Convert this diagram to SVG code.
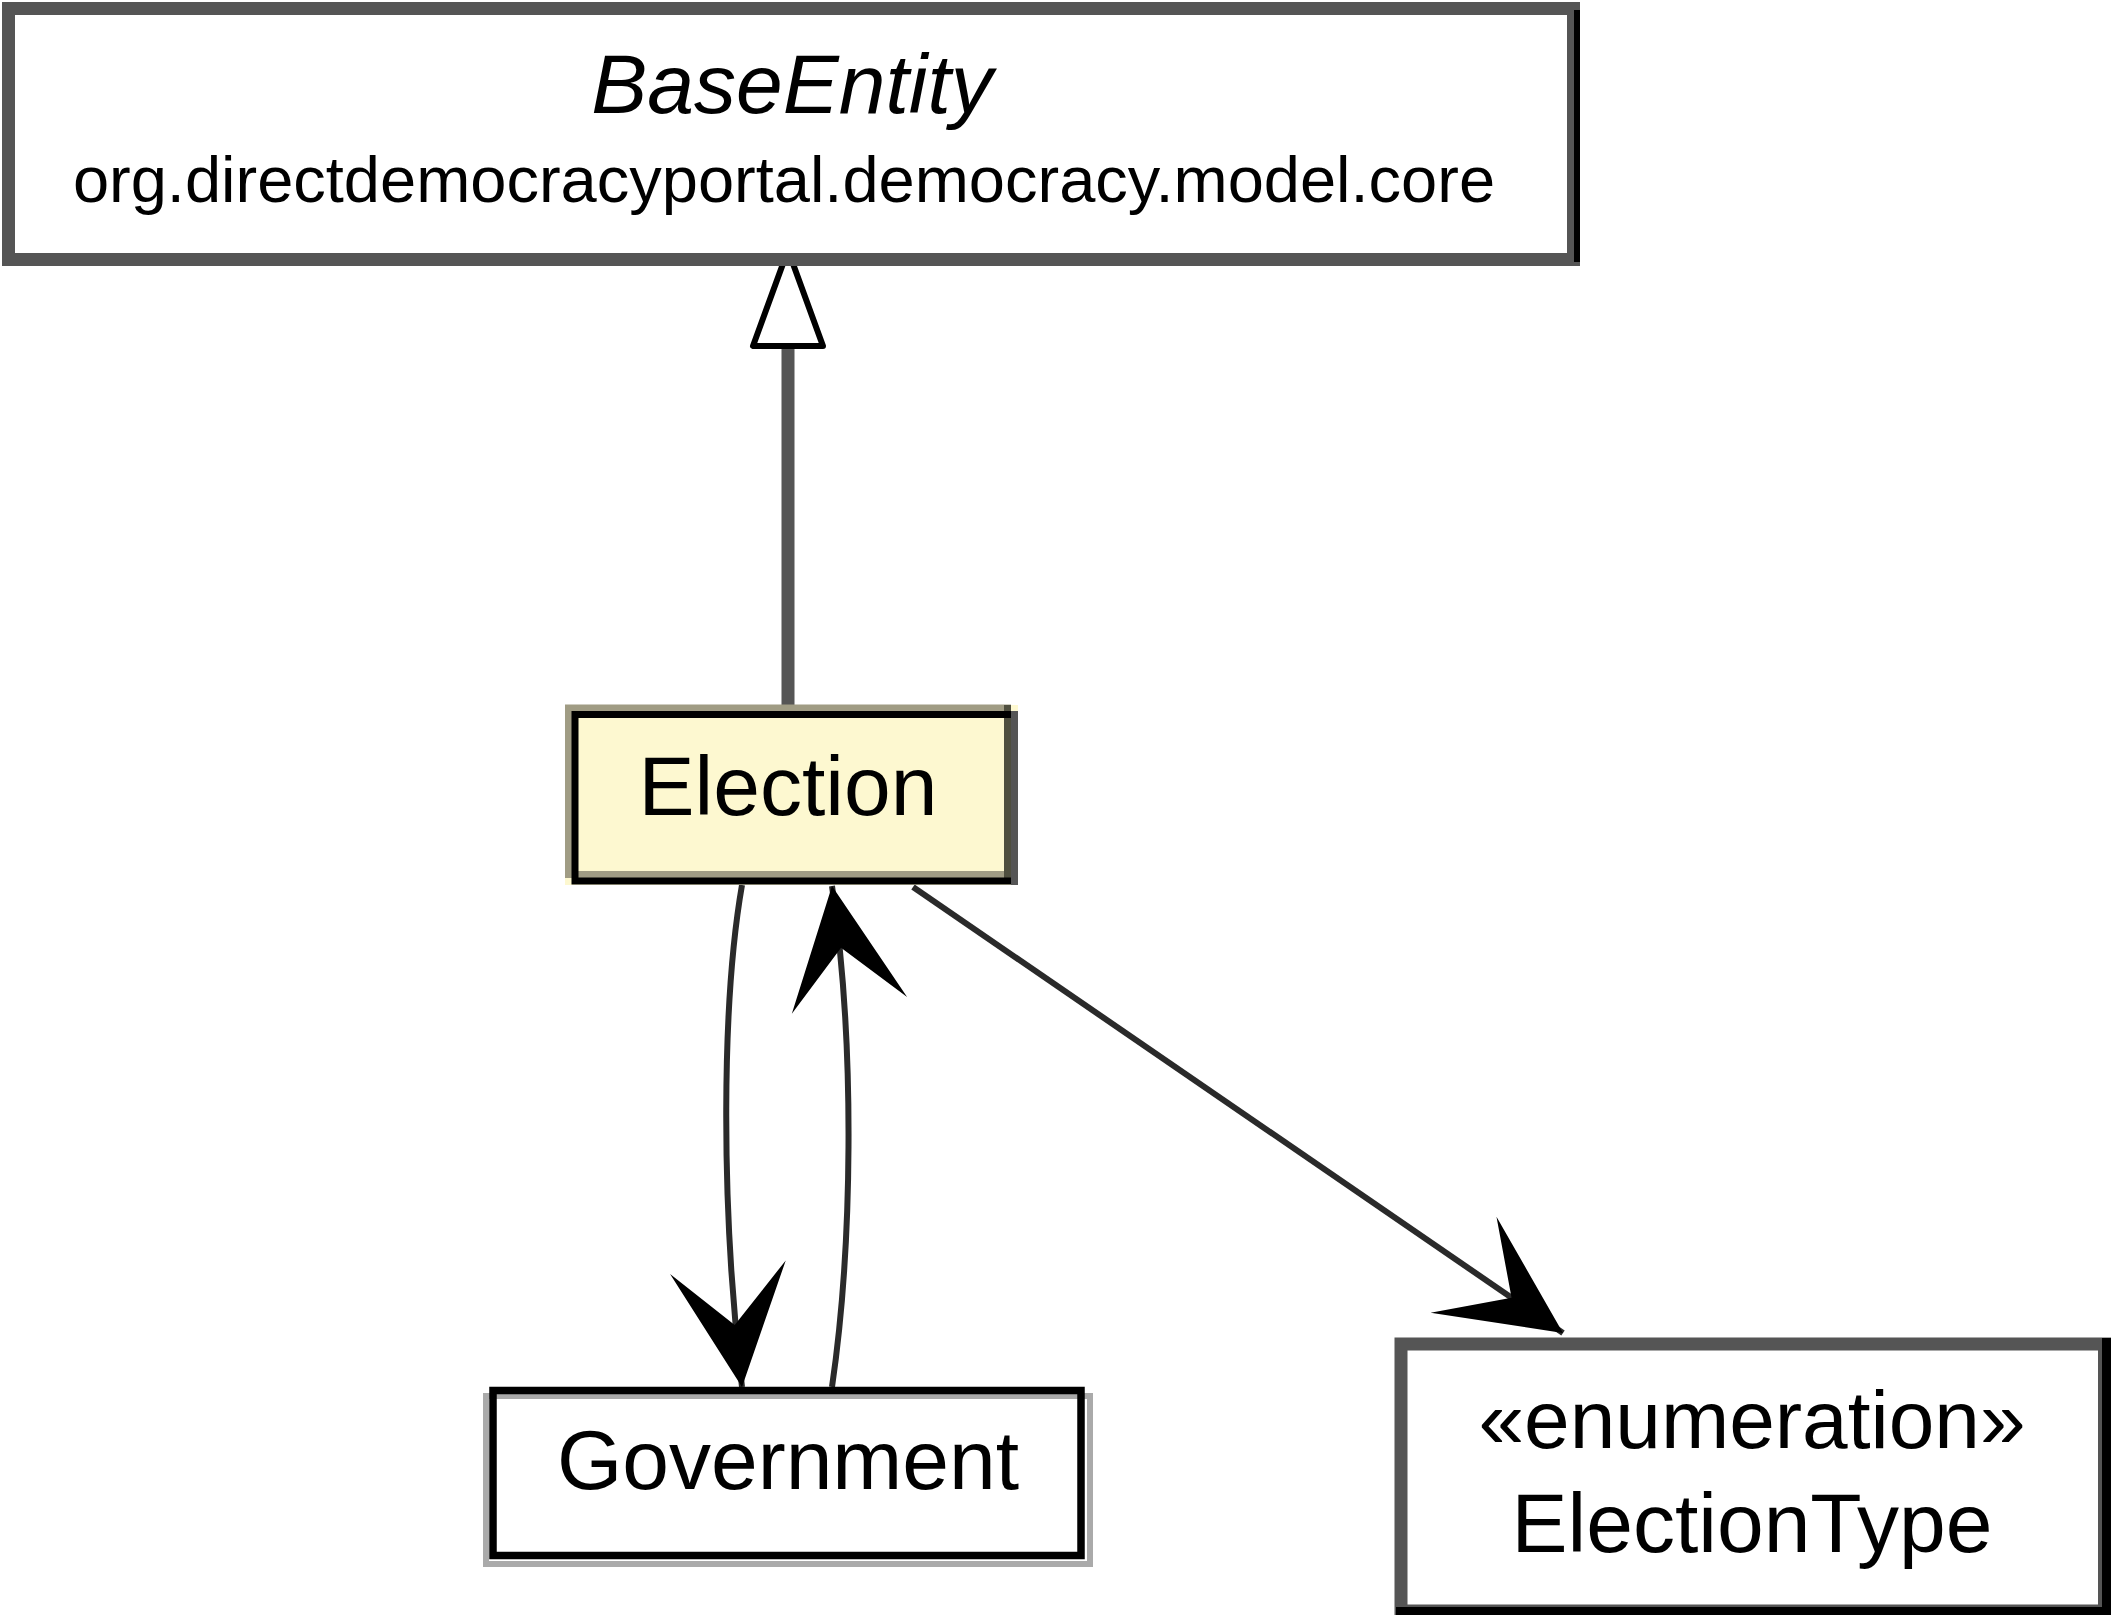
<svg xmlns="http://www.w3.org/2000/svg" width="2111" height="1615" viewBox="0 0 2111 1615">
<style>
  .txt { font-family: "Liberation Sans", Arial, sans-serif; fill: #000; text-anchor: middle; }
  .conn { fill: none; stroke: #2a2a2a; stroke-width: 6; }
</style>
<defs>
  <marker id="vee" markerUnits="userSpaceOnUse" markerWidth="130" markerHeight="130" viewBox="-120 -60 125 120" refX="0" refY="0" orient="auto" overflow="visible">
    <path d="M0,0 L-116,-56 L-60,0 L-116,56 Z" fill="#000"/>
  </marker>
</defs>
<rect x="0" y="0" width="2111" height="1615" fill="#fff"/>

<g id="connectors">
  <g id="generalization">
    <line x1="788" y1="342" x2="788" y2="705" stroke="#555" stroke-width="13"/>
    <polygon points="788,250 753,346 823,346" fill="#fff" stroke="#000" stroke-width="6" stroke-linejoin="round"/>
  </g>
  <path id="election-government" class="conn" d="M 742 885 C 722 1000, 720 1200, 742 1387" marker-end="url(#vee)"/>
  <path id="government-election" class="conn" d="M 832 1387 C 852 1250, 856 1050, 832 886" marker-end="url(#vee)"/>
  <path id="election-electiontype" class="conn" d="M 913 887 L 1563 1333" marker-end="url(#vee)"/>
</g>

<g id="BaseEntity">
  <rect x="8.5" y="8.5" width="1565" height="251" fill="#fff" stroke="#555" stroke-width="13"/>
  <line x1="1577" y1="10" x2="1577" y2="262" stroke="#000" stroke-width="6"/>
  <text class="txt" x="792" y="113" font-size="84" font-style="italic">BaseEntity</text>
  <text class="txt" x="784" y="202" font-size="65">org.directdemocracyportal.democracy.model.core</text>
</g>

<g id="Election">
  <rect x="565" y="705" width="453" height="180" fill="#fdf8d0"/>
  <rect x="568.5" y="708" width="439" height="166.5" fill="none" stroke="#a09c84" stroke-width="7"/>
  <line x1="1007.5" y1="705" x2="1007.5" y2="878" stroke="#4f4f3f" stroke-width="7"/>
  <rect x="575" y="714.5" width="439.5" height="166.5" fill="none" stroke="#000" stroke-width="7"/>
  <line x1="1014.5" y1="711" x2="1014.5" y2="885" stroke="#555" stroke-width="7"/>
  <text class="txt" x="788" y="815" font-size="84">Election</text>
</g>

<g id="Government">
  <rect x="486" y="1396" width="604" height="168" fill="#fff" stroke="#aaa" stroke-width="6"/>
  <rect x="493" y="1390.5" width="588" height="165" fill="none" stroke="#000" stroke-width="7.5"/>
  <text class="txt" x="788" y="1489" font-size="84">Government</text>
</g>

<g id="ElectionType">
  <rect x="1401" y="1344" width="703.5" height="267" fill="#fff" stroke="#555" stroke-width="13"/>
  <line x1="2106.5" y1="1338" x2="2106.5" y2="1615" stroke="#000" stroke-width="9"/>
  <line x1="1396" y1="1611" x2="2111" y2="1611" stroke="#000" stroke-width="8"/>
  <text class="txt" x="1752" y="1448" font-size="82">«enumeration»</text>
  <text class="txt" x="1752" y="1552" font-size="84">ElectionType</text>
</g>
</svg>
